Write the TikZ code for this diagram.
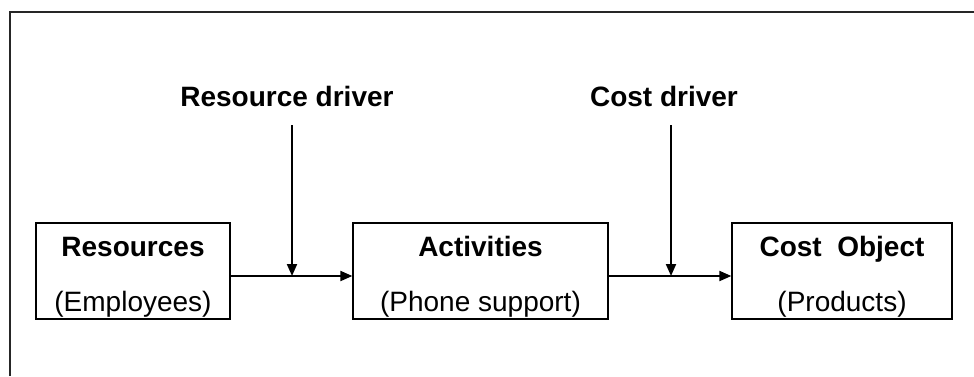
\documentclass[tikz,border=0pt]{standalone}
\usepackage{fontspec}
\setmainfont{Liberation Sans}
\usetikzlibrary{arrows.meta}

\begin{document}
\begin{tikzpicture}[
    x=1pt, y=-1pt,
    frame/.style={line width=1.8pt, black!85},
    stage/.style={draw, line width=1.3pt, inner sep=0pt, minimum height=96pt,
        align=center, font=\fontsize{28}{55}\selectfont},
    driver/.style={anchor=base, font=\fontsize{28}{34}\selectfont\bfseries},
    flow/.style={line width=2pt, -{Triangle[length=12pt, width=10pt]}}
]
    \useasboundingbox (0,0) rectangle (974,376);
    \draw[frame] (10,376) -- (10,12) -- (974,12);

    \node[stage, minimum width=194pt] (res) at (133,271)
        {\rule{0pt}{32pt}\textbf{Resources}\\(Employees)};
    \node[stage, minimum width=255pt] (act) at (480.5,271)
        {\rule{0pt}{32pt}\textbf{Activities}\\(Phone support)};
    \node[stage, minimum width=220pt] (obj) at (842,271)
        {\rule{0pt}{32pt}\textbf{Cost\ \ Object}\\(Products)};

    \node[driver] (rdlabel) at (287,106) {Resource driver};
    \node[driver] (cdlabel) at (664,106) {Cost driver};
    \coordinate (rd) at (292,125);
    \coordinate (cd) at (671,125);

    \draw[flow] ([yshift=-5pt]res.east) -- ([yshift=-5pt]act.west);
    \draw[flow] ([yshift=-5pt]act.east) -- ([yshift=-5pt]obj.west);
    \draw[flow] (rd) -- ([yshift=-5pt]rd |- res.east);
    \draw[flow] (cd) -- ([yshift=-5pt]cd |- act.east);
\end{tikzpicture}
\end{document}
